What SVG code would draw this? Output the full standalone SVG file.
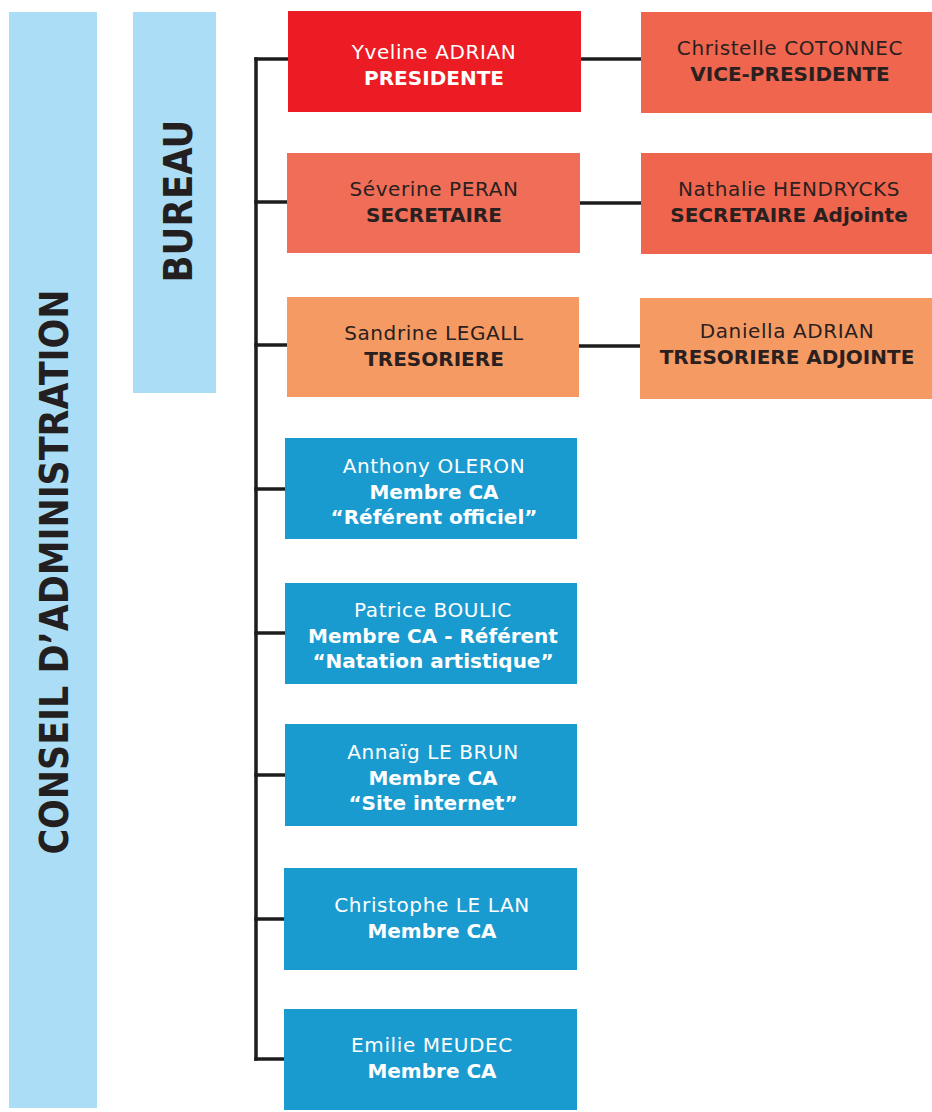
<svg xmlns="http://www.w3.org/2000/svg" width="932" height="1112" viewBox="0 0 932 1112">
<style>
.band{fill:#ACDDF6}
.vt{font-family:"DejaVu Sans",sans-serif;font-weight:bold;fill:#231F20}
.t{font-family:"DejaVu Sans",sans-serif;text-anchor:middle}
.n{font-weight:normal;font-size:20px;letter-spacing:0.6px}
.b{font-weight:bold;font-size:20px}
.dk{fill:#2a2020}
.wh{fill:#ffffff}
.red{fill:#EC1C24}
.sal{fill:#F06E57}
.vice{fill:#F0654D}
.org{fill:#F59A63}
.blue{fill:#1A9BD0}
.conn{stroke:#1c1c1c;stroke-width:3.5;fill:none;stroke-linecap:square}
</style>
<rect width="932" height="1112" fill="#ffffff"/>
<g id="conseil">
<rect class="band" x="9" y="12" width="88" height="1096"/>
<text class="vt" font-size="39" transform="translate(68,572) rotate(-90)" text-anchor="middle" textLength="565" lengthAdjust="spacingAndGlyphs">CONSEIL D’ADMINISTRATION</text>
</g>
<g id="bureau">
<rect class="band" x="133" y="12" width="83" height="381"/>
<text class="vt" font-size="39" transform="translate(192,201) rotate(-90)" text-anchor="middle" textLength="163" lengthAdjust="spacingAndGlyphs">BUREAU</text>
</g>
<g id="connectors">
<path class="conn" d="M256 59 V1059"/>
<path class="conn" d="M256 59 H288"/>
<path class="conn" d="M256 202 H287"/>
<path class="conn" d="M256 345 H287"/>
<path class="conn" d="M256 489 H285"/>
<path class="conn" d="M256 633 H285"/>
<path class="conn" d="M256 775 H285"/>
<path class="conn" d="M256 919 H283"/>
<path class="conn" d="M256 1059 H283"/>
<path class="conn" d="M581 59 H641"/>
<path class="conn" d="M580 203 H641"/>
<path class="conn" d="M579 346 H640"/>
</g>
<g id="president">
<rect class="red" x="288" y="11" width="293" height="101"/>
<text class="t n wh" x="434" y="59">Yveline ADRIAN</text>
<text class="t b wh" x="434" y="85">PRESIDENTE</text>
</g>
<g id="vice-president">
<rect class="vice" x="641" y="12" width="291" height="101"/>
<text class="t n dk" x="790" y="55">Christelle COTONNEC</text>
<text class="t b dk" x="790" y="81">VICE-PRESIDENTE</text>
</g>
<g id="secretaire">
<rect class="sal" x="287" y="153" width="293" height="100"/>
<text class="t n dk" x="434" y="196">Séverine PERAN</text>
<text class="t b dk" x="434" y="222">SECRETAIRE</text>
</g>
<g id="secretaire-adjointe">
<rect class="vice" x="641" y="153" width="291" height="101"/>
<text class="t n dk" x="789" y="196">Nathalie HENDRYCKS</text>
<text class="t b dk" x="789" y="222">SECRETAIRE Adjointe</text>
</g>
<g id="tresoriere">
<rect class="org" x="287" y="297" width="292" height="100"/>
<text class="t n dk" x="434" y="340">Sandrine LEGALL</text>
<text class="t b dk" x="434" y="366">TRESORIERE</text>
</g>
<g id="tresoriere-adjointe">
<rect class="org" x="640" y="298" width="292" height="101"/>
<text class="t n dk" x="787" y="338">Daniella ADRIAN</text>
<text class="t b dk" x="787" y="364">TRESORIERE ADJOINTE</text>
</g>
<g id="oleron">
<rect class="blue" x="285" y="438" width="292" height="101"/>
<text class="t n wh" x="434" y="473">Anthony OLERON</text>
<text class="t b wh" x="434" y="499">Membre CA</text>
<text class="t b wh" x="434" y="524">“Référent officiel”</text>
</g>
<g id="boulic">
<rect class="blue" x="285" y="583" width="292" height="101"/>
<text class="t n wh" x="433" y="617">Patrice BOULIC</text>
<text class="t b wh" x="433" y="643">Membre CA - Référent</text>
<text class="t b wh" x="433" y="668">“Natation artistique”</text>
</g>
<g id="lebrun">
<rect class="blue" x="285" y="724" width="292" height="102"/>
<text class="t n wh" x="433" y="759">Annaïg LE BRUN</text>
<text class="t b wh" x="433" y="785">Membre CA</text>
<text class="t b wh" x="433" y="810">“Site internet”</text>
</g>
<g id="lelan">
<rect class="blue" x="284" y="868" width="293" height="102"/>
<text class="t n wh" x="432" y="912">Christophe LE LAN</text>
<text class="t b wh" x="432" y="938">Membre CA</text>
</g>
<g id="meudec">
<rect class="blue" x="284" y="1009" width="293" height="101"/>
<text class="t n wh" x="432" y="1052">Emilie MEUDEC</text>
<text class="t b wh" x="432" y="1078">Membre CA</text>
</g>
</svg>
